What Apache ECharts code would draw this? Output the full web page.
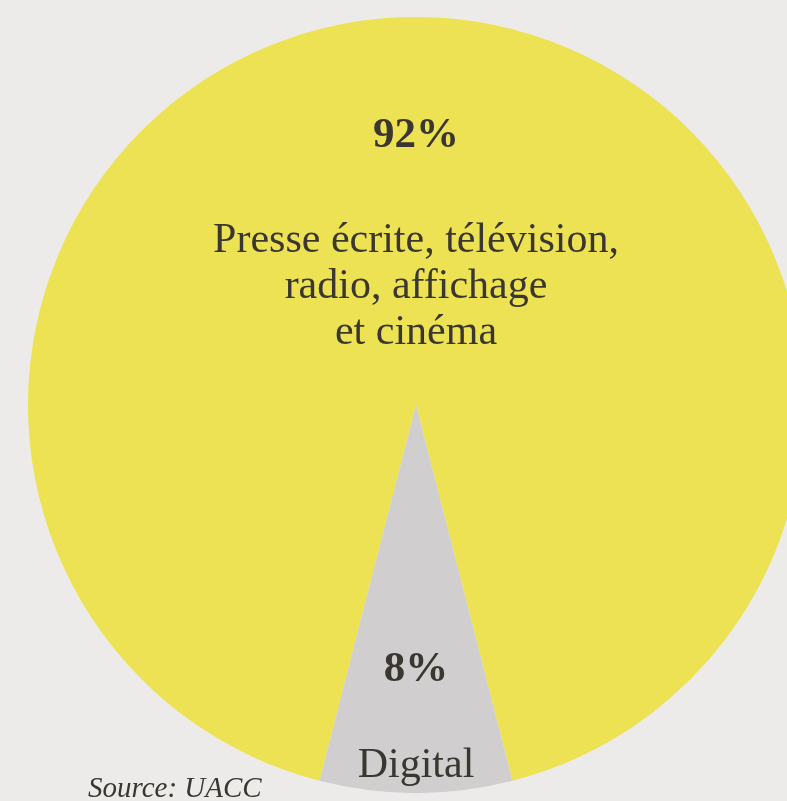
<!DOCTYPE html>
<html>
<head>
<meta charset="utf-8">
<script src="https://cdn.jsdelivr.net/npm/echarts@6/dist/echarts.min.js"></script>
<style>
  html, body { margin: 0; padding: 0; background: #EDEBEA; }
  #chart { width: 787px; height: 801px; }
</style>
</head>
<body>
<div id="chart"></div>
<script>
const categories = ['Presse écrite, télévision,\nradio, affichage\net cinéma', 'Digital'];
const values = [92, 8];
const colors = ['#EDE253', '#D0CECE'];
const sourceText = 'Source: UACC';

const chart = echarts.init(document.getElementById('chart'), null, { renderer: 'canvas' });

const data = categories.map((name, i) => ({
  name: name,
  value: values[i],
  itemStyle: { color: colors[i] }
}));

const labelDy = [25, 115];

chart.setOption({
  backgroundColor: '#EDEBEA',
  animation: false,
  graphic: [{
    type: 'text',
    left: 88,
    top: 775,
    style: {
      text: sourceText,
      font: 'italic 29px "Liberation Serif", "Times New Roman", serif',
      fill: '#3A3630'
    }
  }],
  series: [{
    type: 'pie',
    center: [416, 405],
    radius: [0, 388],
    startAngle: 270 - values[1] / 100 * 180,
    clockwise: true,
    silent: true,
    data: data,
    itemStyle: { borderWidth: 0 },
    label: {
      show: true,
      position: 'inside',
      color: '#3A3630',
      fontFamily: '"Liberation Serif", "Times New Roman", serif',
      formatter: function (p) {
        const lines = p.name.split('\n').map(l => '{n|' + l + '}').join('\n');
        if (p.dataIndex === 0) {
          return '{p|' + p.value + '%}\n{g0|}\n' + lines;
        }
        return '{p|' + p.value + '%}\n{g1|}\n' + lines;
      },
      rich: {
        p: { fontSize: 43, fontWeight: 'bold', lineHeight: 50, color: '#3A3630', fontFamily: '"Liberation Serif", serif' },
        n: { fontSize: 42, lineHeight: 46, color: '#3A3630', fontFamily: '"Liberation Serif", serif' },
        g0: { fontSize: 10, lineHeight: 57 },
        g1: { fontSize: 10, lineHeight: 48 }
      }
    },
    labelLine: { show: false },
    labelLayout: function (params) {
      return { dy: labelDy[params.dataIndex] };
    }
  }]
});
</script>
</body>
</html>
